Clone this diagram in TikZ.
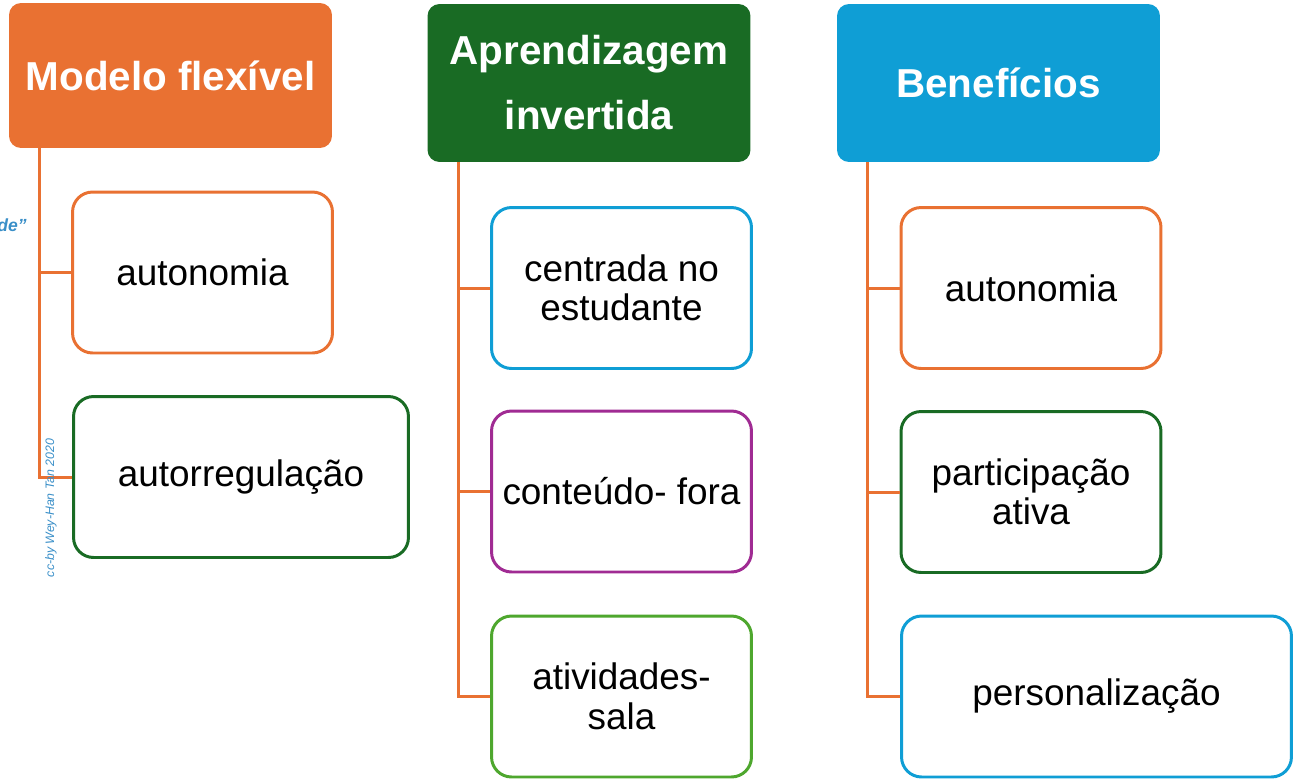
\documentclass[tikz,border=0pt]{standalone}
\usepackage{fontspec}
\setmainfont{Liberation Sans}
\usetikzlibrary{calc}
\usetikzlibrary{positioning}
\definecolor{laranja}{HTML}{E97132}
\definecolor{verdeesc}{HTML}{196B24}
\definecolor{azul}{HTML}{0F9ED5}
\definecolor{roxo}{HTML}{A02B93}
\definecolor{verdeclaro}{HTML}{4EA72E}
\definecolor{tinta}{HTML}{3A8FC8}
\begin{document}
\begin{tikzpicture}[x=0.02cm,y=-0.02cm,
		cabec/.style={rounded corners=0.24cm, minimum width=6.46cm, text=white, inner sep=0pt,
			font=\fontsize{23}{37}\selectfont\bfseries, align=center},
		item/.style={draw, line width=1.7pt, rounded corners=0.4cm, fill=white, minimum width=5.2cm,
			minimum height=3.22cm, inner sep=0pt, font=\fontsize{21}{22.5}\selectfont, align=center},
		ramo/.style={draw=laranja, line width=1.7pt},
		marca/.style={text=tinta, inner sep=0pt}]
		\useasboundingbox (0,0) rectangle (1306,779);
		\node[cabec, fill=laranja, minimum height=2.9cm] (h1) at (170.5,75.5) {Modelo flexível};
		\node[cabec, fill=verdeesc, minimum height=3.16cm] (h2) at (589,83) {Aprendizagem\\invertida};
		\node[cabec, fill=azul, minimum height=3.16cm] (h3) at (998.5,83) {Benefícios};
		\node[item, draw=laranja] (c11) at (202.5,272.5) {autonomia};
		\node[item, draw=verdeesc, minimum width=6.7cm] (c12) at (241,477) {autorregulação};
		\node[item, draw=azul] (c21) at (621.5,288) {centrada no\\estudante};
		\node[item, draw=roxo] (c22) at (621.5,491.5) {conteúdo- fora};
		\node[item, draw=verdeclaro] (c23) at (621.5,696.5) {atividades-\\sala};
		\node[item, draw=laranja] (c31) at (1031,288) {autonomia};
		\node[item, draw=verdeesc] (c32) at (1031,492) {participação\\ativa};
		\node[item, draw=azul, minimum width=7.8cm] (c33) at (1096.5,696.5) {personalização};
		\coordinate (e1) at ($(h1.south west)+(31,0)$);
		\coordinate (e2) at ($(h2.south west)+(31,0)$);
		\coordinate (e3) at ($(h3.south west)+(31,0)$);
		\draw[ramo] (e1) |- (c12.west);
		\draw[ramo] (e1 |- c11.west) -- (c11.west);
		\draw[ramo] (e2) |- (c23.west);
		\draw[ramo] (e2 |- c21.west) -- (c21.west);
		\draw[ramo] (e2 |- c22.west) -- (c22.west);
		\draw[ramo] (e3) |- (c33.west);
		\draw[ramo] (e3 |- c31.west) -- (c31.west);
		\draw[ramo] (e3 |- c32.west) -- (c32.west);
		\node[marca, anchor=east, font=\fontsize{10}{10}\selectfont\itshape\bfseries] (frag) at (27,225) {de''};
		\node[marca, rotate=90, font=\fontsize{7}{7}\selectfont\itshape] (cred) at (51,508) {cc-by Wey-Han Tan 2020};
	\end{tikzpicture}
\end{document}
